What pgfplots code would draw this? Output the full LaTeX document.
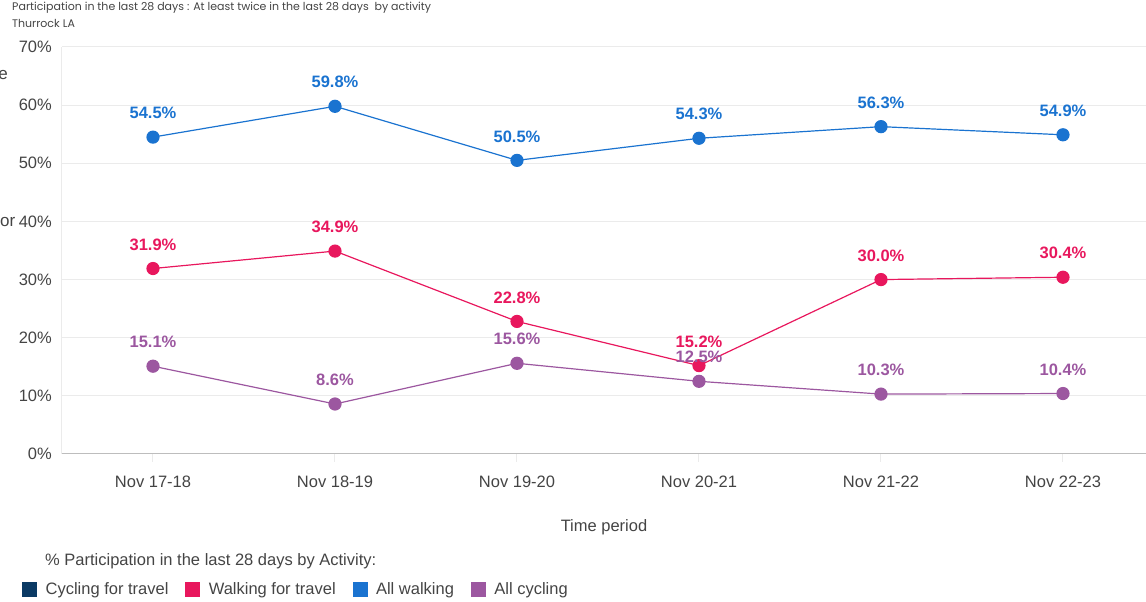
\documentclass[border=0pt]{standalone}
\usepackage{fontspec}
\setmainfont{Liberation Sans}
\newfontfamily\titlefont{Poppins}
\usepackage{pgfplots}
\usepackage{pgfplotstable}
\pgfplotsset{compat=1.18}

\definecolor{allwalk}{HTML}{1A73D0}
\definecolor{walktravel}{HTML}{E8175D}
\definecolor{allcycle}{HTML}{9C57A0}
\definecolor{cycletravel}{HTML}{0B3A64}
\definecolor{gridgray}{HTML}{EBEBEB}
\definecolor{axisgray}{HTML}{BDBDBD}
\definecolor{txtgray}{HTML}{444444}

\newcommand{\lblfont}{\fontsize{16.5bp}{19bp}\selectfont}

% Participation (%) by period: all walking, walking for travel, all cycling
\pgfplotstableread{
x allwalk walktravel allcycle
0 54.5 31.9 15.1
1 59.8 34.9 8.6
2 50.5 22.8 15.6
3 54.3 15.2 12.5
4 56.3 30.0 10.3
5 54.9 30.4 10.4
}\partdata

\begin{document}
\begin{tikzpicture}[x=1bp,y=1bp]
\path[use as bounding box] (-62,-148) rectangle (1084,454);
\begin{axis}[
  at={(0,0)}, anchor=south west,
  scale only axis,
  width=1084bp, height=407bp,
  xmin=-0.5, xmax=5.456,
  ymin=0, ymax=70,
  axis lines*=left,
  x axis line style={draw=axisgray, line width=1bp},
  y axis line style={draw=gridgray, line width=1bp},
  ymajorgrids,
  grid style={draw=gridgray, line width=1bp},
  ytick={0,10,...,70},
  yticklabel={\pgfmathprintnumber{\tick}\%},
  xtick={0,...,5},
  xticklabels={Nov 17-18, Nov 18-19, Nov 19-20, Nov 20-21, Nov 21-22, Nov 22-23},
  tick align=outside,
  major tick length=8bp,
  ytick style={draw=none},
  xtick style={draw=gridgray, line width=1bp},
  /pgf/number format/assume math mode=true,
  ticklabel style={font=\lblfont, text=txtgray, inner sep=0pt},
  yticklabel style={xshift=-2bp},
  xticklabel style={yshift=-14bp},
  every node near coord/.append style={font=\lblfont\bfseries, anchor=center, yshift=24bp, inner sep=0pt},
  nodes near coords={\pgfmathprintnumber[fixed,fixed zerofill,precision=1]{\pgfplotspointmeta}\%},
  legend columns=4,
  legend style={at={(axis description cs:-0.0369,-0.3317)}, anchor=west,
    draw=none, fill=none, inner sep=0pt,
    font=\lblfont, text=txtgray,
    /tikz/every odd column/.append style={column sep=7bp},
    /tikz/every even column/.append style={column sep=15bp}},
  legend cell align=left,
]
\addlegendimage{legend image code/.code={\fill[cycletravel] (0bp,-7bp) rectangle (14bp,7bp);}}
\addlegendentry{Cycling for travel}
\addlegendimage{legend image code/.code={\fill[walktravel] (0bp,-7bp) rectangle (14bp,7bp);}}
\addlegendentry{Walking for travel}
\addlegendimage{legend image code/.code={\fill[allwalk] (0bp,-7bp) rectangle (14bp,7bp);}}
\addlegendentry{All walking}
\addlegendimage{legend image code/.code={\fill[allcycle] (0bp,-7bp) rectangle (14bp,7bp);}}
\addlegendentry{All cycling}

\addplot[forget plot, allwalk, line width=1.2bp, mark=*, mark size=6bp,
  mark options={fill=allwalk, draw=allwalk},
  every node near coord/.append style={text=allwalk}]
  table[x=x, y=allwalk] {\partdata};
\addplot[forget plot, walktravel, line width=1.2bp, mark=*, mark size=6bp,
  mark options={fill=walktravel, draw=walktravel},
  every node near coord/.append style={text=walktravel}]
  table[x=x, y=walktravel] {\partdata};
\addplot[forget plot, allcycle, line width=1.2bp, mark=*, mark size=6bp,
  mark options={fill=allcycle, draw=allcycle},
  every node near coord/.append style={text=allcycle}]
  table[x=x, y=allcycle] {\partdata};
\end{axis}

% headings
\node[anchor=west, inner sep=0pt, text=txtgray, font=\titlefont\fontsize{11bp}{13bp}\selectfont]
  at (-50,446) {Participation in the last 28 days : At least twice in the last 28 days\ \ by activity};
\node[anchor=west, inner sep=0pt, text=txtgray, font=\titlefont\fontsize{11bp}{13bp}\selectfont]
  at (-50,431) {Thurrock LA};

% axis title and legend heading
\node[inner sep=0pt, text=txtgray, font=\lblfont] at (542,-73) {Time period};
\node[anchor=west, inner sep=0pt, text=txtgray, font=\lblfont] at (-17,-107)
  {\% Participation in the last 28 days by Activity:};

% fragments of side text at the left edge
\node[anchor=east, inner sep=0pt, text=txtgray, font=\fontsize{17bp}{20bp}\selectfont] at (-54,379) {e};
\node[anchor=west, inner sep=0pt, text=txtgray, font=\fontsize{17bp}{20bp}\selectfont] at (-62,232) {or};
\end{tikzpicture}
\end{document}
